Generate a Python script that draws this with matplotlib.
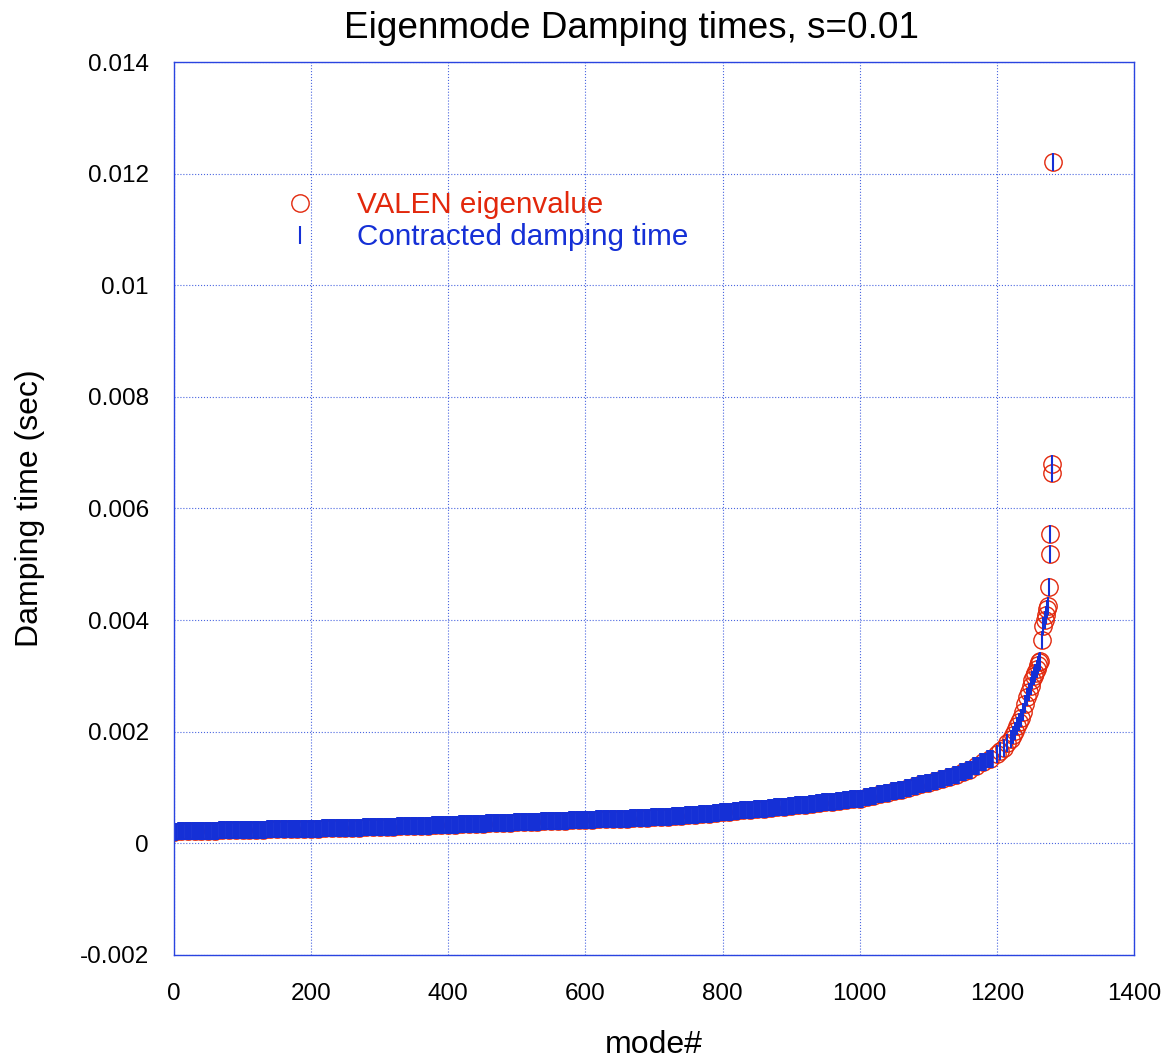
import matplotlib
matplotlib.use('agg')
import matplotlib.pyplot as plt
from matplotlib.ticker import FormatStrFormatter, MultipleLocator

plt.rcParams['font.family'] = ['Liberation Sans', 'DejaVu Sans']

RED = '#e2280c'
BLUE = '#1530d6'

# mode numbers (every 10 modes over the flat part of the curve)
modes_body = list(range(0, 1200, 10))
# damping time in ms
tau_body = [
    0.210, 0.213, 0.216, 0.219, 0.222, 0.225, 0.228, 0.231, 0.234, 0.237,
    0.240, 0.242, 0.244, 0.246, 0.248, 0.250, 0.252, 0.254, 0.256, 0.258,
    0.260, 0.263, 0.266, 0.269, 0.272, 0.275, 0.278, 0.281, 0.284, 0.287,
    0.290, 0.294, 0.298, 0.302, 0.306, 0.310, 0.314, 0.318, 0.322, 0.326,
    0.330, 0.334, 0.339, 0.343, 0.348, 0.352, 0.357, 0.361, 0.366, 0.370,
    0.375, 0.380, 0.384, 0.389, 0.393, 0.398, 0.402, 0.407, 0.411, 0.416,
    0.420, 0.424, 0.428, 0.432, 0.436, 0.440, 0.444, 0.448, 0.452, 0.456,
    0.463, 0.470, 0.479, 0.488, 0.497, 0.506, 0.515, 0.524, 0.533, 0.546,
    0.560, 0.570, 0.580, 0.591, 0.602, 0.613, 0.624, 0.636, 0.648, 0.659,
    0.670, 0.682, 0.695, 0.708, 0.721, 0.735, 0.749, 0.763, 0.778, 0.790,
    0.800, 0.826, 0.852, 0.878, 0.904, 0.930, 0.962, 0.994, 1.026, 1.058,
    1.090, 1.125, 1.160, 1.195, 1.230, 1.270, 1.310, 1.380, 1.450, 1.520,
]

# the steep tail, sampled more densely
modes_tail = [1200, 1205, 1210, 1215, 1220, 1223, 1226, 1229, 1232, 1235,
              1238, 1241, 1244, 1247, 1250, 1252, 1254, 1256, 1258, 1260,
              1262, 1263, 1266, 1268, 1270, 1272, 1273, 1274, 1276, 1277,
              1278, 1280, 1281, 1282]
tau_tail = [1.60, 1.65, 1.71, 1.79, 1.87, 1.95, 2.02, 2.10, 2.18, 2.25,
            2.35, 2.50, 2.62, 2.72, 2.82, 2.92, 3.00, 3.06, 3.12, 3.20,
            3.25, 3.27, 3.64, 3.90, 4.00, 4.10, 4.20, 4.25, 4.60, 5.18,
            5.54, 6.63, 6.79, 12.2]
# contracted model, same as eigenvalues to plot accuracy
tau_contr_body = tau_body
tau_contr_tail = tau_tail


def main():
    fig = plt.figure(figsize=(11.67, 10.6), dpi=100)
    ax = fig.add_axes([0.1491, 0.0991, 0.8226, 0.8424])

    yb = [t * 1e-3 for t in tau_body]
    yt = [t * 1e-3 for t in tau_tail]
    ycb = [t * 1e-3 for t in tau_contr_body]
    yct = [t * 1e-3 for t in tau_contr_tail]

    ax.plot(modes_body, yb, 'o', ms=12.5, mfc='none', mec=RED, mew=1.0)
    ax.plot(modes_tail, yt, 'o', ms=12.5, mfc='none', mec=RED, mew=1.0,
            label='VALEN eigenvalue')
    ax.plot(modes_body, ycb, '|', ms=12.5, mec=BLUE, mew=5.5)
    ax.plot(modes_tail, yct, '|', ms=12.5, mec=BLUE, mew=1.5,
            label='Contracted damping time')

    ax.set_xlim(0, 1400)
    ax.set_ylim(-0.002, 0.014)
    ax.xaxis.set_major_locator(MultipleLocator(200))
    ax.yaxis.set_major_locator(MultipleLocator(0.002))
    ax.yaxis.set_major_formatter(FormatStrFormatter('%g'))
    ax.tick_params(length=0, labelsize=17.5)
    ax.tick_params(axis='y', pad=18)
    ax.tick_params(axis='x', pad=20)
    ax.grid(True, color='#4a66e0', linestyle=':', linewidth=0.8)
    for s in ax.spines.values():
        s.set_color('#2a44e0')
        s.set_linewidth(1.0)

    ax.set_title('Eigenmode Damping times, s=0.01', fontsize=26.6, pad=17,
                 x=0.477)
    ax.set_xlabel('mode#', fontsize=23, labelpad=18)
    ax.set_ylabel('Damping time (sec)', fontsize=23, labelpad=25)

    ax.legend(loc='upper left', bbox_to_anchor=(0.1, 0.8556), frameon=False,
              fontsize=21.3, labelcolor=[RED, BLUE], handletextpad=0.95,
              labelspacing=0.15, borderpad=0, borderaxespad=0,
              markerscale=1.0)

    fig.savefig('out.png', dpi=100)
    plt.close()


if __name__ == "__main__":
    main()
